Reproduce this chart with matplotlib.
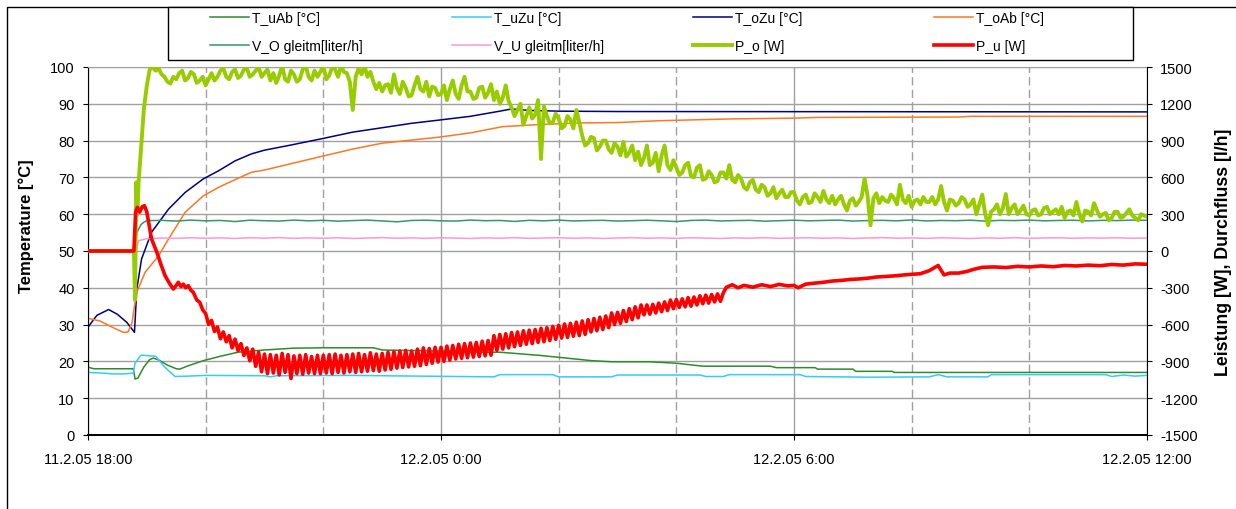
"""
Heat store test run 11.2.05 18:00 - 12.2.05 12:00: temperatures (left axis),
power and flow (right axis).
"""
import numpy as np
import matplotlib.pyplot as plt
from matplotlib.patches import Rectangle

plt.rcParams['font.family'] = ['Liberation Sans', 'DejaVu Sans']
plt.rcParams['axes.unicode_minus'] = False

# x axis: hours after 11.2.05 18:00
x_ticks = [0, 6, 12, 18]
x_labels = ['11.2.05 18:00', '12.2.05 0:00', '12.2.05 6:00', '12.2.05 12:00']
x_minor = [2, 4, 8, 10, 14, 16]

# temperatures [°C]
t_uab_h = [0, 0.05, 0.1, 0.77, 0.8, 0.85, 0.95, 1.05, 1.11, 1.2,
           1.35, 1.5, 1.56, 1.7, 1.96, 2.25, 2.55, 3.0, 3.5, 4.0,
           4.85, 5.0, 5.98, 6.75, 7.0, 7.7, 8.56, 8.9, 9.55, 10.0,
           10.45, 11.6, 11.7, 12.36, 12.4, 13.0, 13.05, 13.67, 13.7, 18.0]
t_uab = [18.5, 18.2, 18.0, 18.0, 15.2, 15.5, 18.5, 20.5, 20.9, 20.4,
         19.0, 18.0, 17.9, 18.8, 20.2, 21.4, 22.5, 23.1, 23.6, 23.7,
         23.7, 23.1, 22.8, 22.5, 22.5, 21.6, 20.2, 19.9, 19.9, 19.5,
         18.7, 18.7, 18.3, 18.3, 17.9, 17.9, 17.3, 17.3, 17.0, 17.0]

t_uzu_h = [0, 0.3, 0.4, 0.6, 0.77, 0.8, 0.9, 1.15, 1.3, 1.48,
           1.7, 2.0, 3.0, 3.1, 3.2, 4.5, 5.0, 6.9, 7.0, 7.9,
           8.0, 8.9, 9.0, 10.4, 10.5, 10.8, 10.9, 12.1, 12.2, 13.3,
           14.3, 14.45, 14.6, 15.3, 15.35, 17.3, 17.4, 17.6, 17.8, 18.0]
t_uzu = [17.0, 16.8, 16.6, 16.6, 16.8, 19.5, 21.7, 21.4, 18.5, 15.9,
         16.0, 16.2, 16.1, 15.8, 16.1, 16.2, 16.1, 15.8, 16.4, 16.4,
         15.8, 15.8, 16.3, 16.3, 15.9, 15.9, 16.4, 16.4, 15.9, 15.7,
         15.8, 16.4, 15.8, 15.8, 16.4, 16.4, 15.9, 16.3, 16.0, 16.2]

t_ozu_h = [0, 0.15, 0.35, 0.5, 0.66, 0.79, 0.83, 0.91, 1.08, 1.37,
           1.65, 1.96, 2.22, 2.5, 2.78, 3.0, 3.45, 3.94, 4.5, 5.0,
           5.5, 5.98, 6.5, 7.0, 7.2, 7.5, 8.0, 9.0, 18.0]
t_ozu = [29.3, 32.5, 34.1, 32.8, 30.6, 27.9, 39.7, 47.8, 55.1, 61.4,
         65.9, 69.6, 71.8, 74.5, 76.4, 77.4, 78.8, 80.4, 82.3, 83.5,
         84.7, 85.6, 86.6, 88.0, 88.6, 88.2, 88.0, 87.9, 87.8]

t_oab_h = [0, 0.2, 0.45, 0.6, 0.68, 0.75, 0.79, 0.83, 0.97, 1.2,
           1.37, 1.65, 1.96, 2.22, 2.5, 2.78, 3.0, 3.94, 4.5, 5.0,
           5.95, 6.5, 7.05, 7.6, 8.35, 9.0, 9.7, 10.95, 12.0, 12.4,
           14.8, 15.0, 18.0]
t_oab = [31.7, 31.0, 29.0, 27.9, 28.0, 30.6, 35.1, 38.8, 44.2, 48.7,
         53.3, 60.5, 65.0, 67.3, 69.4, 71.4, 72.0, 75.6, 77.7, 79.3,
         80.9, 82.1, 83.8, 84.3, 84.8, 84.9, 85.4, 85.9, 86.1, 86.3,
         86.4, 86.6, 86.6]

# flow [l/h]: start-up points, then every 0.25 h from 1.0 h
vo_start_h = [0, 0.79, 0.83, 0.9, 0.95]
vo_start = [0, 0, 150, 215, 235]
vo_grid = [247, 250, 244, 252, 246, 249, 240, 251, 247, 244,
           252, 246, 250, 243, 248, 252, 245, 238, 249, 251,
           246, 244, 252, 247, 249, 241, 250, 246, 252, 245,
           248, 250, 244, 247, 251, 246, 240, 249, 252, 245,
           248, 250, 243, 247, 251, 246, 249, 252, 244, 248,
           250, 246, 253, 245, 249, 247, 251, 244, 250, 248,
           252, 246, 249, 251, 245, 250, 248, 252, 250]

vu_start_h = [0, 0.82, 0.86, 0.95]
vu_start = [0, 0, 84, 95]
vu_grid = [100, 106, 103, 108, 104, 107, 102, 108, 105, 109,
           103, 107, 104, 108, 102, 106, 109, 104, 107, 103,
           108, 105, 102, 107, 104, 109, 103, 106, 108, 104,
           107, 102, 106, 109, 104, 107, 103, 108, 105, 102,
           107, 104, 109, 103, 106, 108, 104, 107, 102, 106,
           109, 104, 107, 103, 108, 105, 102, 107, 104, 109,
           103, 106, 108, 104, 107, 105, 108, 104, 106]

# P_o [W]: start-up points, then every 0.1 h from 1.1 h,
# plus the readings in between (1.15 h, 1.25 h, ...)
po_start_h = [0, 0.78, 0.8, 0.82, 0.84, 0.86, 0.9, 0.95, 1.0, 1.05]
po_start = [0, 0, -400, 560, 300, 560, 830, 1160, 1350, 1480]
po_grid = [1500, 1490, 1420, 1365, 1400, 1470, 1410, 1440, 1390, 1350,
           1450, 1420, 1490, 1400, 1480, 1430, 1490, 1440, 1500, 1450,
           1390, 1370, 1510, 1380, 1440, 1400, 1510, 1390, 1420, 1510,
           1430, 1480, 1510, 1450, 1150, 1490, 1510, 1460, 1320, 1300,
           1360, 1440, 1280, 1330, 1270, 1420, 1300, 1260, 1330, 1280,
           1230, 1390, 1240, 1420, 1300, 1250, 1340, 1290, 1230, 1200,
           1350, 1170, 1150, 1030, 1170, 1110, 750, 1100, 1050, 1080,
           1020, 1070, 1150, 940, 880, 920, 850, 900, 800, 850,
           890, 800, 740, 700, 860, 720, 650, 860, 660, 680,
           640, 720, 600, 700, 590, 620, 570, 640, 700, 560,
           590, 500, 580, 480, 520, 470, 430, 500, 440, 480,
           380, 460, 400, 440, 490, 390, 380, 450, 330, 430,
           400, 590, 210, 470, 440, 400, 430, 540, 390, 360,
           420, 440, 400, 380, 530, 330, 410, 390, 420, 380,
           300, 460, 210, 340, 300, 465, 350, 300, 370, 290,
           340, 300, 360, 320, 300, 270, 330, 400, 240, 320,
           390, 280, 310, 270, 320, 280, 340, 270, 300, 280]
po_mid = [1470, 1440, 1380, 1420, 1450, 1390, 1460, 1370, 1420, 1400,
          1390, 1470, 1420, 1460, 1410, 1480, 1420, 1470, 1420, 1480,
          1450, 1430, 1400, 1470, 1380, 1480, 1420, 1470, 1460, 1400,
          1500, 1420, 1460, 1380, 1420, 1440, 1420, 1380, 1370, 1350,
          1290, 1330, 1380, 1260, 1350, 1320, 1380, 1340, 1270, 1350,
          1320, 1280, 1350, 1300, 1240, 1330, 1250, 1360, 1300, 1250,
          1220, 1100, 1200, 1100, 1080, 1230, 1180, 1040, 1120, 1000,
          1100, 1000, 1050, 860, 930, 820, 900, 830, 880, 780,
          770, 860, 810, 760, 700, 800, 780, 700, 740, 620,
          700, 610, 680, 580, 650, 560, 640, 590, 580, 620,
          520, 560, 500, 540, 450, 520, 470, 440, 480, 410,
          440, 390, 470, 400, 420, 450, 420, 380, 410, 370,
          440, 450, 430, 390, 410, 460, 380, 420, 450, 410,
          380, 400, 440, 420, 400, 420, 370, 440, 360, 420,
          380, 300, 320, 380, 350, 300, 380, 330, 300, 330,
          290, 350, 300, 340, 360, 320, 290, 300, 330, 290,
          330, 300, 250, 320, 270, 310, 290, 250, 290]

# P_u [W]: start-up, oscillating part every 0.05 h from 2.0 h, then tail
pu_start_h = [0, 0.78, 0.81, 0.84, 0.88, 0.92, 0.96, 1.0, 1.08, 1.17,
              1.24, 1.31, 1.38, 1.45, 1.5, 1.535, 1.58, 1.62, 1.66, 1.705,
              1.75, 1.79, 1.85, 1.9, 1.95]
pu_start = [0, 0, 318, 356, 318, 360, 369, 318, 98, -10,
            -110, -201, -260, -310, -280, -255, -290, -270, -300, -283,
            -320, -337, -400, -418, -480]
pu_osc = [-510, -598, -566, -656, -620, -715, -660, -740, -690, -790,
          -718, -812, -755, -852, -790, -895, -800, -940, -825, -985,
          -840, -1000, -845, -995, -850, -1010, -835, -990, -845, -1040,
          -855, -1000, -850, -1005, -845, -995, -860, -1000, -850, -1000,
          -850, -995, -845, -1000, -840, -990, -850, -995, -845, -985,
          -840, -990, -835, -985, -845, -980, -830, -975, -840, -980,
          -835, -970, -825, -965, -820, -955, -815, -950, -810, -945,
          -815, -940, -800, -935, -790, -925, -795, -915, -785, -905,
          -785, -900, -775, -890, -770, -880, -760, -875, -755, -870,
          -750, -865, -745, -860, -735, -855, -730, -850, -690, -810,
          -680, -800, -675, -790, -665, -780, -660, -770, -650, -760,
          -645, -755, -640, -745, -630, -740, -625, -730, -615, -720,
          -605, -710, -595, -705, -590, -695, -580, -690, -570, -680,
          -560, -660, -550, -650, -540, -640, -530, -625, -505, -600,
          -500, -590, -485, -575, -470, -560, -455, -545, -440, -520,
          -440, -515, -435, -505, -425, -495, -415, -485, -400, -470,
          -395, -460, -390, -455, -380, -450, -375, -440, -365, -430,
          -360, -425, -355, -415, -350, -410, -340]
pu_end_h = [10.85, 10.95, 11.05, 11.15, 11.3, 11.45, 11.6, 11.75, 11.9, 12.0,
            12.07, 12.2, 12.35, 12.5, 12.65, 12.8, 12.95, 13.1, 13.25, 13.4,
            13.55, 13.7, 13.85, 14.0, 14.15, 14.3, 14.45, 14.55, 14.65, 14.8,
            14.95, 15.05, 15.2, 15.4, 15.6, 15.8, 16.0, 16.2, 16.4, 16.6,
            16.8, 17.0, 17.2, 17.4, 17.6, 17.8, 18.0]
pu_end = [-296, -275, -300, -280, -295, -275, -290, -272, -285, -280,
          -300, -270, -262, -255, -245, -240, -232, -228, -222, -212,
          -208, -203, -196, -190, -185, -160, -118, -195, -180, -180,
          -165, -150, -133, -130, -135, -125, -130, -122, -128, -118,
          -122, -115, -120, -110, -115, -105, -108]

# assemble time axes
vo_h = np.concatenate([vo_start_h, 1.0 + 0.25 * np.arange(len(vo_grid))])
vo = np.concatenate([vo_start, vo_grid])
vu_h = np.concatenate([vu_start_h, 1.0 + 0.25 * np.arange(len(vu_grid))])
vu = np.concatenate([vu_start, vu_grid])
po_h = np.concatenate([po_start_h, 1.1 + 0.1 * np.arange(len(po_grid)),
                       1.15 + 0.1 * np.arange(len(po_mid))])
po = np.concatenate([po_start, po_grid, po_mid])
order = np.argsort(po_h, kind='stable')
po_h, po = po_h[order], po[order]
pu_h = np.concatenate([pu_start_h, 2.0 + 0.05 * np.arange(len(pu_osc)), pu_end_h])
pu = np.concatenate([pu_start, pu_osc, pu_end])

W, H = 1236, 510
fig = plt.figure(figsize=(W / 100, H / 100), dpi=100)
ax = fig.add_axes([88 / W, 1 - 436 / H, 1059 / W, 368 / H])
ax2 = ax.twinx()

grid_col = '#a0a0a0'
ax.set_xlim(0, 18)
ax.set_ylim(0, 100)
ax.set_yticks(range(0, 101, 10))
ax.set_xticks(x_ticks)
ax.set_xticklabels(x_labels)
ax.set_xticks(x_minor, minor=True)
ax.set_axisbelow(True)
ax.grid(axis='y', color=grid_col, lw=1.0)
ax.grid(axis='x', which='major', color=grid_col, lw=1.0)
ax.grid(axis='x', which='minor', color=grid_col, lw=1.0, linestyle=(0, (6, 3)))

l1, = ax.plot(t_uab_h, t_uab, color='#2e8b2e', lw=1.1)
l2, = ax.plot(t_uzu_h, t_uzu, color='#33ccff', lw=1.1)
l3, = ax.plot(t_ozu_h, t_ozu, color='#000080', lw=1.1)
l4, = ax.plot(t_oab_h, t_oab, color='#ff7722', lw=1.1)

ax2.set_ylim(-1500, 1500)
ax2.set_yticks(range(-1500, 1501, 300))
l5, = ax2.plot(vo_h, vo, color='#339966', lw=1.1)
l6, = ax2.plot(vu_h, vu, color='#ff99cc', lw=1.1)
l7, = ax2.plot(po_h, po, color='#99cc00', lw=2.8)
l8, = ax2.plot(pu_h, pu, color='#ff0000', lw=2.6)

# axes styling
for s in ['left', 'bottom']:
    ax.spines[s].set_color('black')
ax.spines['bottom'].set_linewidth(1.4)
ax.spines['top'].set_color(grid_col)
ax.spines['right'].set_visible(False)
ax2.spines['right'].set_color('black')
for s in ['left', 'top', 'bottom']:
    ax2.spines[s].set_visible(False)

ax.tick_params(axis='y', length=3.6, width=0.8, labelsize=10.5, pad=6)
ax.tick_params(axis='x', which='major', length=3.6, width=0.8, labelsize=10.5, pad=9)
ax.tick_params(axis='x', which='minor', length=0)
ax2.tick_params(axis='y', length=3.6, width=0.8, labelsize=10.5, pad=6)

ax.set_ylabel('Temperature [°C]', fontsize=12, fontweight='bold')
ax.yaxis.set_label_coords(-0.051, 0.571)
ax2.set_ylabel('Leistung [W], Durchfluss [l/h]', fontsize=12.8, fontweight='bold')
ax2.yaxis.set_label_coords(1.0645, 0.5)

# outer chart frame and legend box
fig.add_artist(Rectangle((7 / W, -0.5), 2, 1 - 8 / H + 0.5, transform=fig.transFigure,
                         fill=False, edgecolor='black', lw=1.0))
fig.add_artist(Rectangle((168 / W, 1 - 61 / H), 965 / W, 53 / H, transform=fig.transFigure,
                         facecolor='white', edgecolor='black', lw=1.0))

columns = [([l1, l5], ['T_uAb [°C]', 'V_O gleitm[liter/h]'], 210),
           ([l2, l6], ['T_uZu [°C]', 'V_U gleitm[liter/h]'], 452),
           ([l3, l7], ['T_oZu [°C]', 'P_o [W]'], 693),
           ([l4, l8], ['T_oAb [°C]', 'P_u [W]'], 934)]
for handles, labels, x0 in columns:
    fig.legend(handles, labels, loc='upper left', bbox_to_anchor=(x0 / W, 1 - 12 / H),
               frameon=False, fontsize=10, borderpad=0, borderaxespad=0,
               handlelength=2.8, handletextpad=0.25, labelspacing=1.02)

fig.savefig('out.png', dpi=100)
